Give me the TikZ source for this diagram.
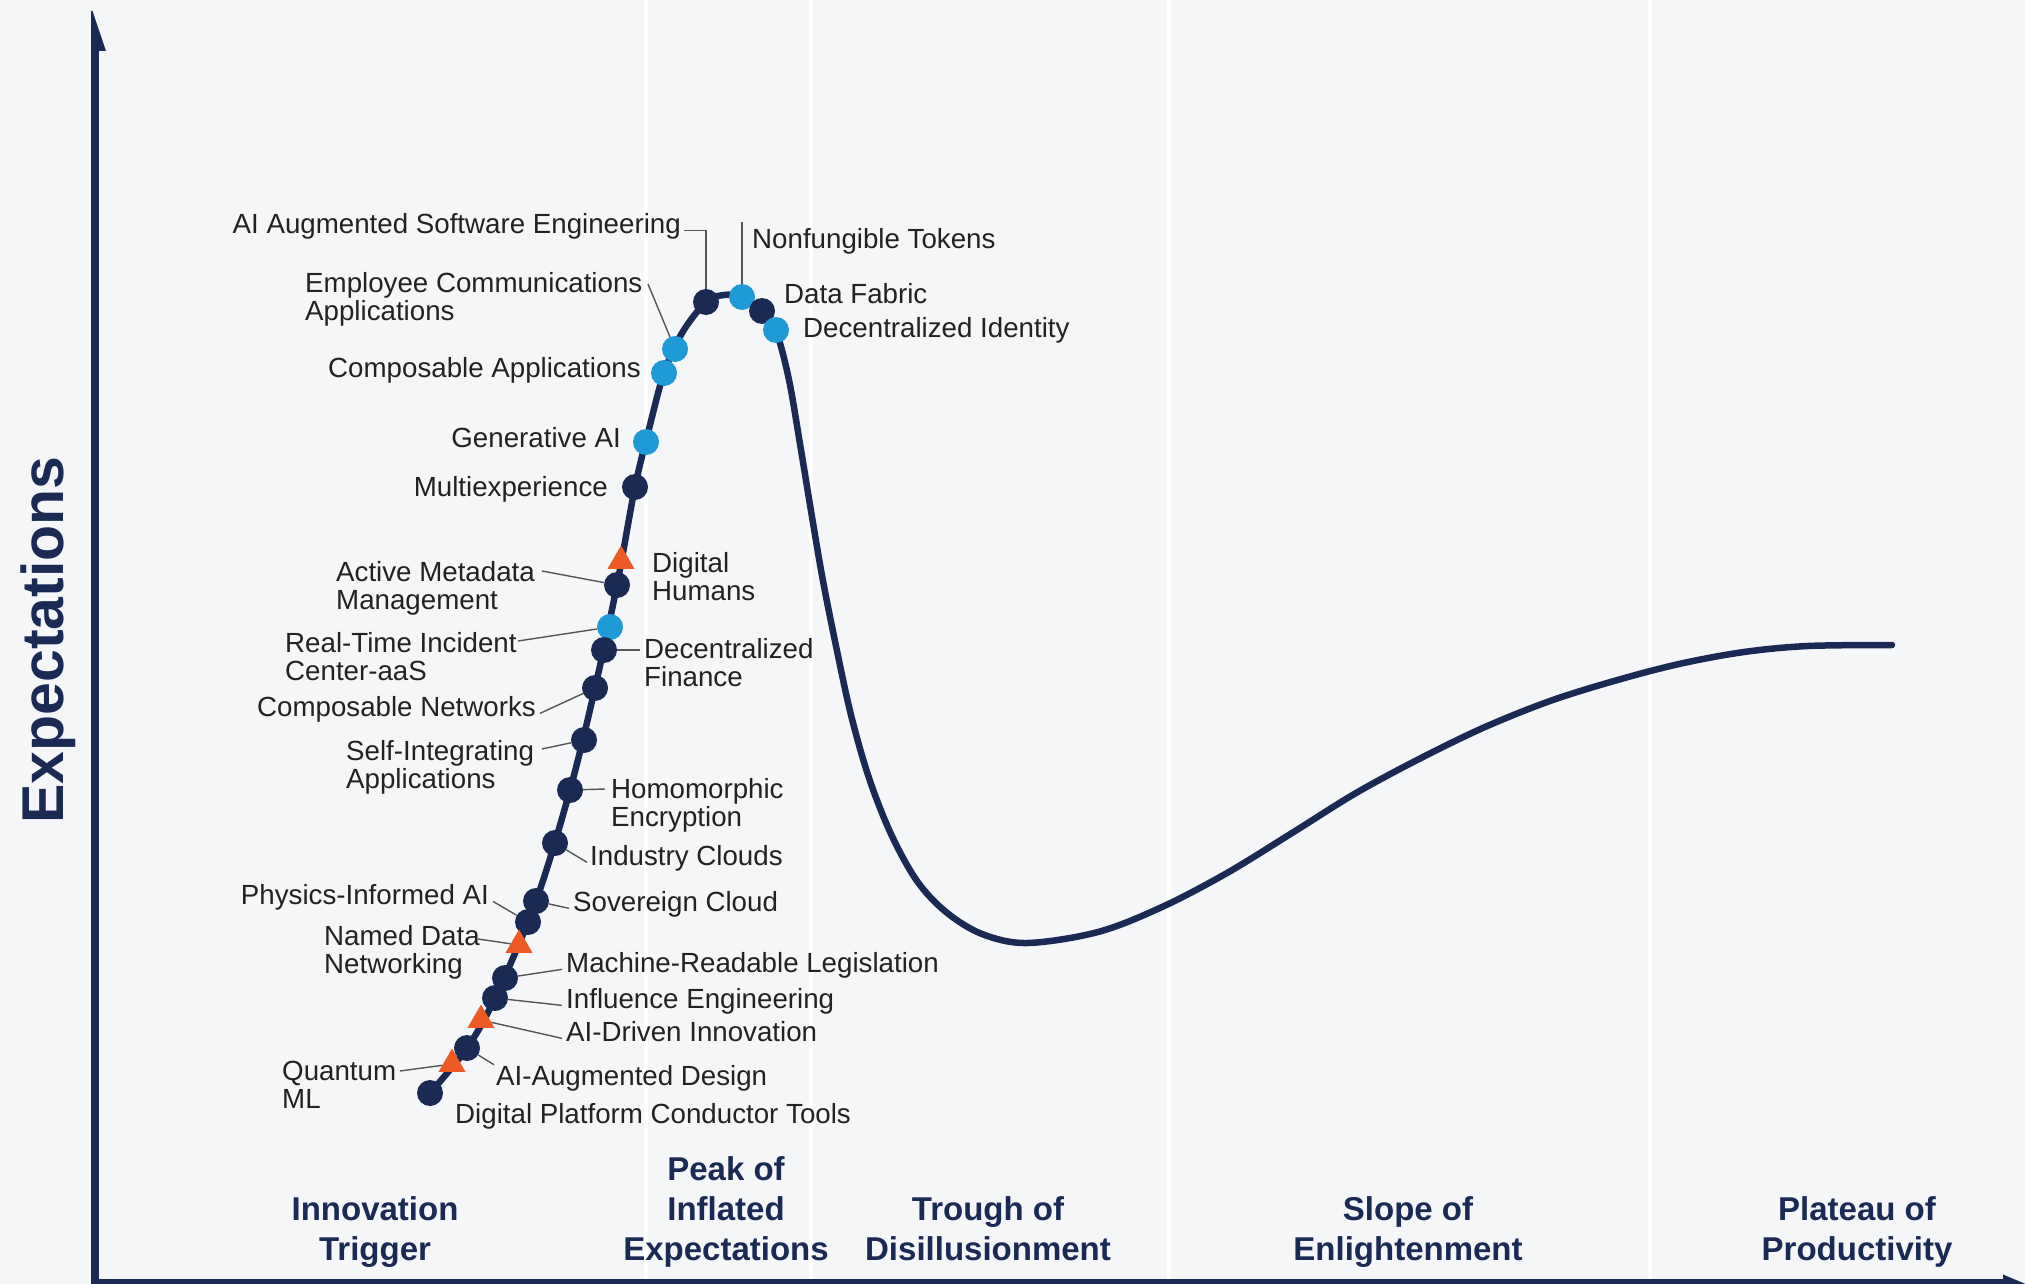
\documentclass[tikz,border=0pt]{standalone}
\usepackage{fontspec}
\setmainfont{Liberation Sans}
\usetikzlibrary{shapes.geometric}
\definecolor{bgc}{HTML}{F5F6F8}
\definecolor{navy}{HTML}{1B2A55}
\definecolor{lblue}{HTML}{1E9AD6}
\definecolor{orng}{HTML}{EE5A24}
\definecolor{txt}{HTML}{222222}
\definecolor{leadc}{HTML}{555555}
\begin{document}
\begin{tikzpicture}[x=1pt,y=-1pt,
  dotn/.style={circle,fill=navy,minimum size=26pt,inner sep=0pt},
  dotb/.style={circle,fill=lblue,minimum size=26pt,inner sep=0pt},
  tri/.style={regular polygon,regular polygon sides=3,fill=orng,minimum size=31pt,inner sep=0pt},
  lab/.style={inner sep=0pt,text=txt,font=\fontsize{27.7}{28}\selectfont,align=left},
  phase/.style={inner sep=0pt,text=navy,font=\bfseries\fontsize{33}{40}\selectfont,align=center},
  leader/.style={draw=leadc,line width=1.4pt},
  sepline/.style={draw=white,line width=4pt}]
\useasboundingbox (0,0) rectangle (2025,1284);
\fill[bgc] (0,0) rectangle (2025,1284);
% phase separators
\foreach \xx in {646,811,1169,1650} \draw[sepline] (\xx,0) -- (\xx,1280);
% axes
\fill[navy] (91,50) rectangle (99,1284);
\fill[navy] (91,11) -- (92.5,11) -- (106,51) -- (91,51) -- cycle;
\fill[navy] (91,1279) rectangle (2004,1284);
\fill[navy] (2003,1274.5) -- (2028,1285) -- (2003,1285) -- cycle;
\node[rotate=90,anchor=base,text=navy,font=\bfseries\fontsize{59}{60}\selectfont,inner sep=0pt] (ylab) at (63,640) {Expectations};
% hype curve
\draw[navy,line width=6.5pt,line cap=round] plot[smooth,tension=0.55] coordinates {
(430,1093) (467,1048) (495,998) (536,901) (570,790) (595,688) (617,585) (635,487)
(650,425) (664,373) (682,333) (706,302) (724,295) (742,297) (762,311) (776,331)
(789,380) (801,450) (812,517) (823,581) (836,646) (851,715) (869,778) (891,834)
(917,881) (946,912) (982,934) (1027,943) (1098,932) (1162,907) (1227,873) (1292,833)
(1356,793) (1421,758) (1485,727) (1550,701) (1614,681) (1679,664) (1744,652) (1808,646) (1892,645)};
% dots: rising part, top to bottom
\node[dotn] (d-aise) at (706,302) {};
\node[dotb] (d-eca) at (675,349) {};
\node[dotb] (d-cap) at (664,373) {};
\node[dotb] (d-gai) at (646,442) {};
\node[dotn] (d-mx) at (635,487) {};
\node[dotn] (d-amm) at (617,585) {};
\node[dotb] (d-rti) at (610,627) {};
\node[dotn] (d-dfi) at (604,650) {};
\node[dotn] (d-cn) at (595,688) {};
\node[dotn] (d-sia) at (584,740) {};
\node[dotn] (d-he) at (570,790) {};
\node[dotn] (d-ic) at (555,843) {};
\node[dotn] (d-sc) at (536,901) {};
\node[dotn] (d-pia) at (528,922) {};
\node[dotn] (d-mrl) at (505,978) {};
\node[dotn] (d-ie) at (495,998) {};
\node[dotn] (d-aad) at (467,1048) {};
\node[dotn] (d-dpct) at (430,1093) {};
% peak
\node[dotb] (d-nft) at (742,297) {};
\node[dotn] (d-df) at (762,311) {};
\node[dotb] (d-did) at (776,330) {};
% triangles
\node[tri] (tr-dh) at (621,561) {};
\node[tri] (tr-ndn) at (519,945) {};
\node[tri] (tr-adi) at (481,1020) {};
\node[tri] (tr-qml) at (452,1064) {};
% labels
\node[lab,anchor=base east] (t-aise) at (681,233) {AI Augmented Software Engineering};
\node[lab,anchor=base west] (t-nft) at (752,248) {Nonfungible Tokens};
\node[lab,anchor=base west] (t-df) at (784,303) {Data Fabric};
\node[lab,anchor=base west] (t-did) at (803,337) {Decentralized Identity};
\node[lab,anchor=north west] (t-eca) at (305,272) {Employee Communications\\Applications};
\node[lab,anchor=base east] (t-cap) at (641,377) {Composable Applications};
\node[lab,anchor=base east] (t-gai) at (621,447) {Generative AI};
\node[lab,anchor=base east] (t-mx) at (608,496) {Multiexperience};
\node[lab,anchor=north west] (t-amm) at (336,561) {Active Metadata\\Management};
\node[lab,anchor=north west] (t-dh) at (652,552) {Digital\\Humans};
\node[lab,anchor=north west] (t-rti) at (285,632) {Real-Time Incident\\Center-aaS};
\node[lab,anchor=north west] (t-dfi) at (644,638) {Decentralized\\Finance};
\node[lab,anchor=base east] (t-cn) at (536,716) {Composable Networks};
\node[lab,anchor=north west] (t-sia) at (346,740) {Self-Integrating\\Applications};
\node[lab,anchor=north west] (t-he) at (611,778) {Homomorphic\\Encryption};
\node[lab,anchor=base west] (t-ic) at (590,865) {Industry Clouds};
\node[lab,anchor=base east] (t-pia) at (489,904) {Physics-Informed AI};
\node[lab,anchor=base west] (t-sc) at (573,911) {Sovereign Cloud};
\node[lab,anchor=north west] (t-ndn) at (324,925) {Named Data\\Networking};
\node[lab,anchor=base west] (t-mrl) at (566,972) {Machine-Readable Legislation};
\node[lab,anchor=base west] (t-ie) at (566,1008) {Influence Engineering};
\node[lab,anchor=base west] (t-adi) at (566,1041) {AI-Driven Innovation};
\node[lab,anchor=base west] (t-aad) at (496,1085) {AI-Augmented Design};
\node[lab,anchor=north west] (t-qml) at (282,1061) {Quantum\\ML};
\node[lab,anchor=base west] (t-dpct) at (455,1123) {Digital Platform Conductor Tools};
% leader coordinates
\coordinate (c-nft) at (742,222);
\coordinate (c-eca) at (648,284);
\coordinate (c-amm) at (542,571);
\coordinate (c-rti) at (518,641);
\coordinate (c-dfi) at (640,650);
\coordinate (c-sia) at (542,749);
\coordinate (c-he) at (605,789);
\coordinate (c-ndn) at (478,939);
\coordinate (c-qml) at (400,1071);
% leaders
\draw[leader] ([xshift=3pt]t-aise.mid east) -| (d-aise);
\draw[leader] (c-nft) -- (d-nft);
\draw[leader] (c-eca) -- (d-eca);
\draw[leader] (c-amm) -- (d-amm);
\draw[leader] (c-rti) -- (d-rti);
\draw[leader] (d-dfi) -- (c-dfi);
\draw[leader] ([xshift=4pt]t-cn.mid east) -- (d-cn);
\draw[leader] (c-sia) -- (d-sia);
\draw[leader] (d-he) -- (c-he);
\draw[leader] (d-ic) -- ([xshift=-3pt]t-ic.mid west);
\draw[leader] ([xshift=4pt]t-pia.mid east) -- (d-pia);
\draw[leader] (d-sc) -- ([xshift=-4pt]t-sc.mid west);
\draw[leader] (c-ndn) -- (tr-ndn);
\draw[leader] (d-mrl) -- ([xshift=-4pt]t-mrl.mid west);
\draw[leader] (d-ie) -- ([xshift=-4pt]t-ie.mid west);
\draw[leader] (tr-adi) -- ([xshift=-4pt]t-adi.mid west);
\draw[leader] (d-aad) -- ([xshift=-2pt]t-aad.north west);
\draw[leader] (c-qml) -- (tr-qml);
% phases
\node[phase,anchor=north] (p-it) at (375,1196) {Innovation\\Trigger};
\node[phase,anchor=north] (p-pie) at (726,1156) {Peak of\\Inflated\\Expectations};
\node[phase,anchor=north] (p-td) at (988,1196) {Trough of\\Disillusionment};
\node[phase,anchor=north] (p-se) at (1408,1196) {Slope of\\Enlightenment};
\node[phase,anchor=north] (p-pp) at (1857,1196) {Plateau of\\Productivity};
\end{tikzpicture}
\end{document}
